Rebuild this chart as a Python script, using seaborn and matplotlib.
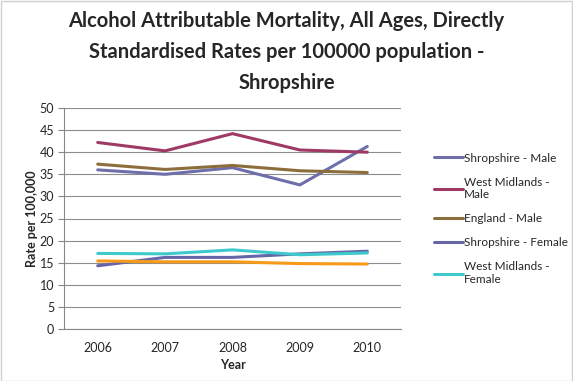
import matplotlib
matplotlib.use("Agg")
import matplotlib.pyplot as plt
import seaborn as sns
import pandas as pd
from matplotlib.patches import Rectangle

years = [2006, 2007, 2008, 2009, 2010]
series_names = ["Shropshire - Male", "West Midlands - Male", "England - Male",
                "Shropshire - Female", "West Midlands - Female", "England - Female"]
shropshire_male = [36.0, 35.0, 36.5, 32.6, 41.3]
west_midlands_male = [42.2, 40.3, 44.2, 40.5, 40.0]
england_male = [37.3, 36.1, 37.0, 35.8, 35.4]
shropshire_female = [14.3, 16.2, 16.2, 17.0, 17.6]
west_midlands_female = [17.1, 17.0, 17.9, 16.8, 17.2]
england_female = [15.4, 15.2, 15.2, 14.8, 14.7]
legend_labels = ["Shropshire - Male", "West Midlands -\nMale", "England - Male",
                 "Shropshire - Female", "West Midlands -\nFemale"]
y_ticks = [0, 5, 10, 15, 20, 25, 30, 35, 40, 45, 50]

colors = ["#6E6EAA", "#9E3A65", "#8C6E3C", "#6566A8", "#3EC9CC", "#F79A1A"]

all_values = [shropshire_male, west_midlands_male, england_male,
              shropshire_female, west_midlands_female, england_female]
rows = []
for name, vals in zip(series_names, all_values):
    for y, v in zip(years, vals):
        rows.append({"Year": y, "Rate": v, "Series": name})
df = pd.DataFrame(rows)

sns.set_style("white")
plt.rcParams["font.family"] = ["Lato", "DejaVu Sans"]

fig = plt.figure(figsize=(5.73, 3.81), dpi=100)
fig.patches.append(Rectangle((0.5 / 573, 0.5 / 381), 1 - 1.5 / 573, 1 - 1.5 / 381,
                             transform=fig.transFigure, fill=False,
                             edgecolor="#D0D0D0", linewidth=1.0))
ax = fig.add_axes([64 / 573, 1 - 329 / 381, 337 / 573, 221 / 381])

sns.lineplot(data=df, x="Year", y="Rate", hue="Series", hue_order=series_names,
             palette=colors, linewidth=2.2, ax=ax, legend=False, sort=False)

ax.set_xlim(2005.5, 2010.5)
ax.set_ylim(0, 50)
ax.set_yticks(y_ticks)
ax.set_yticklabels([str(t) for t in y_ticks], fontsize=9)
ax.set_xticks(years)
ax.set_xticklabels([str(y) for y in years], fontsize=9)
ax.set_xticks([2005.5 + i for i in range(6)], minor=True)
ax.tick_params(axis="x", which="major", length=0, pad=9)
ax.tick_params(axis="x", which="minor", length=5, color="#888888", direction="out")
ax.tick_params(axis="y", which="major", length=4, color="#888888", direction="out", left=True, pad=3)
ax.grid(axis="y", color="#8C8C8C", linewidth=0.8)
ax.set_axisbelow(True)
for s in ["top", "right"]:
    ax.spines[s].set_visible(False)
ax.spines["left"].set_color("#888888")
ax.spines["bottom"].set_color("#888888")

ax.set_xlabel("Year", fontsize=9, fontweight="bold", labelpad=4)
ax.set_ylabel("Rate per 100,000", fontsize=9, fontweight="bold", labelpad=1)

fig.text(0.5, 1 - 52 / 381, "Alcohol Attributable Mortality, All Ages, Directly\n"
         "Standardised Rates per 100000 population -\nShropshire",
         ha="center", va="center", fontsize=14.5, fontweight="bold", linespacing=1.7)

handles = ax.get_lines()[:5]
leg = fig.legend(handles, legend_labels, loc="upper left",
                 bbox_to_anchor=(423 / 573, 1 - 142 / 381), frameon=False,
                 fontsize=8.5, handlelength=2.5, handletextpad=0.1,
                 labelspacing=1.1)

fig.savefig("out.png", dpi=100)
